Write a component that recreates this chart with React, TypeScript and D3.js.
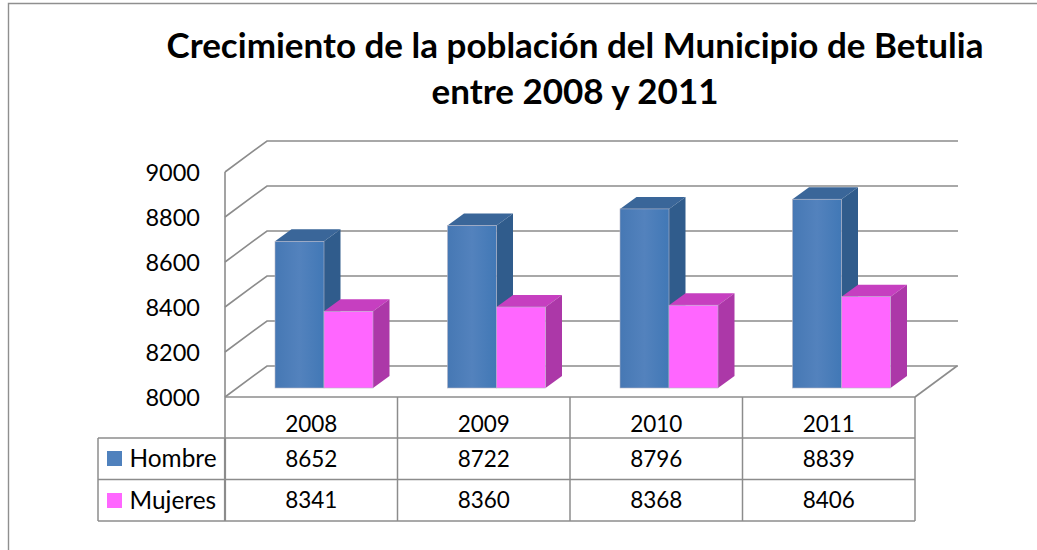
import React from "react";
import * as d3 from "d3";

const years = ["2008", "2009", "2010", "2011"];
const hombre = [8652, 8722, 8796, 8839];
const mujeres = [8341, 8360, 8368, 8406];
const yTicks = [8000, 8200, 8400, 8600, 8800, 9000];
const seriesNames = ["Hombre", "Mujeres"];
const titleLines = ["Crecimiento de la población del Municipio de Betulia", "entre 2008 y 2011"];

const FONT = "Lato, Carlito, sans-serif";
const GRID = "#8c8c8c";

function Bar({ x, w, yTop, yBase, dx, dy, side, top, grad }: any) {
  return (
    <g>
      <polygon points={`${x},${yTop} ${x + dx},${yTop + dy} ${x + w + dx},${yTop + dy} ${x + w},${yTop}`} fill={top} />
      <polygon points={`${x + w},${yTop} ${x + w + dx},${yTop + dy} ${x + w + dx},${yBase + dy} ${x + w},${yBase}`} fill={side} />
      <rect x={x} y={yTop} width={w} height={yBase - yTop} fill={grad} stroke="#b5b5c5" strokeWidth={0.6} />
    </g>
  );
}

export default function App() {
  const x = d3.scaleBand<string>().domain(years).range([225, 915]).paddingInner(0).paddingOuter(0);
  const yFront = d3.scaleLinear().domain([8000, 9000]).range([397, 172]);
  const wallDx = 42, wallDy = -31;
  const barDx = 16.5, barDy = -12;
  const barBaseOffset = -9;
  const barOffset = 50, barW = 49;
  const rowY = [397, 438, 479.5, 521];
  const tableLeft = 98;

  const yBar = (v: number) => yFront(v) + barBaseOffset;
  const cx = (c: string) => x(c)! + x.bandwidth() / 2;

  return (
    <svg width={1037} height={550} style={{ position: "absolute", left: 0, top: 0, background: "#fff" }} fontFamily={FONT}>
      <defs>
        <linearGradient id="blueG" x1="0" x2="1" y1="0" y2="0">
          <stop offset="0" stopColor="#4678b4" />
          <stop offset="0.5" stopColor="#5382bd" />
          <stop offset="1" stopColor="#4178b6" />
        </linearGradient>
      </defs>

      <path d="M1037,3.5 H8.5 V550" fill="none" stroke="#8f8f8f" strokeWidth={1.4} />

      {titleLines.map((t, i) => (
        <text key={t} x={575} y={58 + i * 46} textAnchor="middle" fontWeight={700} fontSize={35} fill="#000">{t}</text>
      ))}

      {/* walls */}
      <g stroke={GRID} fill="none" strokeWidth={1.6}>
        <line x1={225} x2={225} y1={yFront(9000)} y2={rowY[3]} />
        {yTicks.map((t) => (
          <path key={t} d={`M225,${yFront(t)} L${225 + wallDx},${yFront(t) + wallDy} H958`} />
        ))}
        <path d={`M915,${yFront(8000)} L${915 + wallDx},${yFront(8000) + wallDy}`} />
      </g>

      {yTicks.map((t) => (
        <text key={t} x={200} y={yFront(t) + 8.5} textAnchor="end" fontSize={23.5} fill="#000">{t}</text>
      ))}

      {/* bars */}
      {years.map((c, i) => {
        const bx = x(c)! + barOffset;
        const yBase = yBar(8000);
        return (
          <g key={c}>
            <Bar x={bx} w={barW} yTop={yBar(hombre[i])} yBase={yBase} dx={barDx} dy={barDy} top="#3a6699" side="#305c8c" grad="url(#blueG)" />
            <Bar x={bx + barW} w={barW} yTop={yBar(mujeres[i])} yBase={yBase} dx={barDx} dy={barDy} top="#c63fc0" side="#ac38a8" grad="#ff66ff" />
          </g>
        );
      })}

      {/* data table */}
      <g stroke={GRID} fill="none" strokeWidth={1.5}>
        <line x1={225} x2={915} y1={rowY[0]} y2={rowY[0]} />
        <line x1={tableLeft} x2={915} y1={rowY[1]} y2={rowY[1]} />
        <line x1={tableLeft} x2={915} y1={rowY[2]} y2={rowY[2]} />
        <line x1={tableLeft} x2={915} y1={rowY[3]} y2={rowY[3]} />
        <line x1={tableLeft} x2={tableLeft} y1={rowY[1]} y2={rowY[3]} />
        <line x1={225} x2={225} y1={rowY[1]} y2={rowY[3]} strokeWidth={2.2} />
        {years.map((c) => (
          <line key={c} x1={x(c)! + x.bandwidth()} x2={x(c)! + x.bandwidth()} y1={rowY[0]} y2={rowY[3]} />
        ))}
      </g>

      {years.map((c, i) => (
        <g key={c} fontSize={22.5} fill="#000" textAnchor="middle">
          <text x={cx(c)} y={432}>{c}</text>
          <text x={cx(c)} y={467}>{hombre[i]}</text>
          <text x={cx(c)} y={508}>{mujeres[i]}</text>
        </g>
      ))}

      {seriesNames.map((n, i) => (
        <g key={n}>
          <rect x={107} y={451 + i * 42} width={15} height={15} fill={i === 0 ? "#4f81bd" : "#ff66ff"} />
          <text x={129.5} y={467 + i * 41.5} fontSize={24.4} fill="#000">{n}</text>
        </g>
      ))}
    </svg>
  );
}
